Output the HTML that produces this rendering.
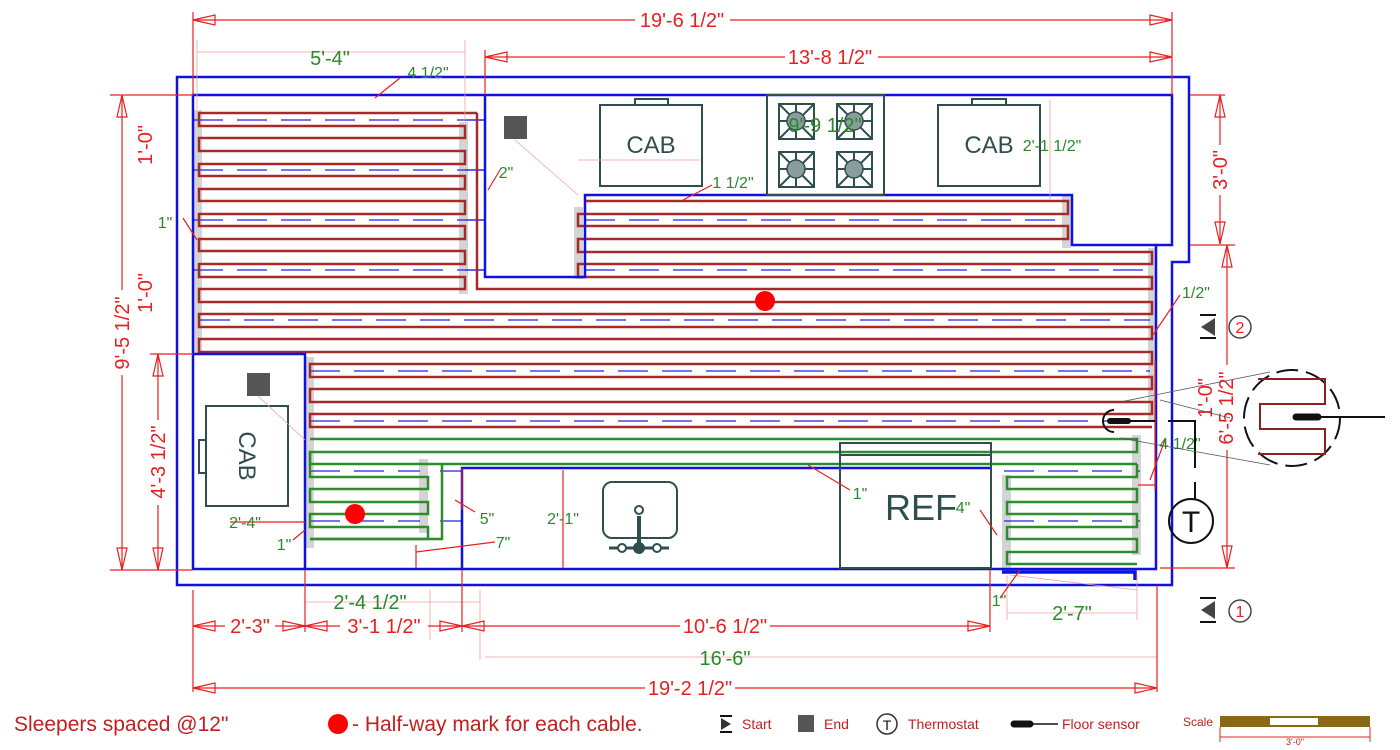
<!DOCTYPE html>
<html><head><meta charset="utf-8"><style>
html,body{margin:0;padding:0;background:#fff;}
svg{display:block;font-family:"Liberation Sans",Arial,sans-serif;}
.c{stroke:#a52a2a;stroke-width:2.5;fill:none}
.g{stroke:#2e8b2e;stroke-width:2.5;fill:none}
.b{stroke:#1010e0;stroke-width:2.5;fill:none}
.d{stroke:#2020e0;stroke-width:1.2;stroke-dasharray:30 14;fill:none}
.s{fill:#d4d4d4}
.f{stroke:#2f4f4f;stroke-width:2;fill:none}
.r{stroke:#e82020;stroke-width:1.2;fill:none}
.p{stroke:#f4a0a0;stroke-width:0.8;fill:none}
.rt{fill:#e82020;font-size:20px}
.gt{fill:#2a8a2a;font-size:16px}
</style></head><body>
<svg width="1400" height="750" viewBox="0 0 1400 750">
<rect class="s" x="193" y="110" width="9" height="245"/>
<rect class="s" x="459" y="122" width="9" height="172"/>
<rect class="s" x="574" y="207" width="9" height="72"/>
<rect class="s" x="1062" y="196" width="9" height="52"/>
<rect class="s" x="1148" y="248" width="9" height="172"/>
<rect class="s" x="305" y="357" width="9" height="191"/>
<rect class="s" x="419" y="459" width="9" height="74"/>
<rect class="s" x="1132" y="435" width="9" height="120"/>
<rect class="s" x="1002" y="475" width="9" height="95"/>

<g class="d">
<path d="M193 120H485M193 170H485M193 220H485M193 270H485"/>
<path d="M585 220H1062M585 270H1150M200 320H1150M310 371H1150M310 421H1150"/>
<path d="M310 471H420M310 521H420M1004 471H1140M1004 521H1140"/>
</g>
<path d="M465 120H485M465 170H485M465 220H485M465 270H485M440 471H462M440 521H462" stroke="#2020e0" stroke-width="1.2"/>

<g class="c">
<path d="M477 113H199V126H465V138H199V151H465V164H199V176H465V189H199V201H465V214H199V226H465V239H199V251H465V264H199V277H465V289H199V302H1152V314H199V327H1152V339H199V352H1152V364H310V377H1152V389H310V402H1152V414H310V427H1152"/>
<path d="M477 113V289H1152V277H578V264H1152V252H578V239H1068V226H578V214H1068V201H585"/>
</g>
<g class="g">
<path d="M310 439H1137V452H310V464H1137"/>
<path d="M310 452V477H428V489H310V502H428V514H310V527H428V539H310"/>
<path d="M442 464V539H310"/>
<path d="M1137 464V477H1007V489H1137V502H1007V514H1137V527H1007V539H1137V552H1007V564H1137"/>
</g>

<path class="b" d="M177 77H1189V262H1172V585H177Z"/>
<path class="b" d="M193 95H1172V245H1156V569H193Z"/>
<path class="b" d="M485 95V277H585V195H1072V245H1156"/>
<path class="b" d="M193 354H305V569"/>
<path class="b" d="M462 569V468H990"/>
<path d="M1002 572H1135V580" stroke="#1010e0" stroke-width="3.5" fill="none"/>

<g class="f">
<rect x="600" y="105" width="102" height="81"/><rect x="635" y="99" width="33" height="6"/>
<rect x="938" y="105" width="102" height="81"/><rect x="972" y="99" width="34" height="6"/>
<rect x="767" y="95" width="117" height="100"/>
<rect x="779" y="104" width="35" height="35"/><rect x="837" y="104" width="35" height="35"/>
<rect x="779" y="152" width="35" height="35"/><rect x="837" y="152" width="35" height="35"/>
<path d="M779 104l35 35M814 104l-35 35M796 104v35M779 121h35M837 104l35 35M872 104l-35 35M854 104v35M837 121h35M779 152l35 35M814 152l-35 35M796 152v35M779 169h35M837 152l35 35M872 152l-35 35M854 152v35M837 169h35"/>
<rect x="206" y="406" width="82" height="100"/><rect x="199" y="440" width="7" height="33"/>
<rect x="603" y="482" width="74" height="56" rx="9"/>
<circle cx="639" cy="510" r="4"/><path d="M639 516V548" stroke-width="4"/>
<path d="M609 548H669" stroke-width="3"/>
<rect x="840" y="443" width="151" height="125"/><path d="M840 455H991"/>
</g>
<g fill="#8a9c9c" stroke="#2f4f4f" stroke-width="1.5">
<circle cx="796" cy="121" r="9"/><circle cx="854" cy="121" r="9"/><circle cx="796" cy="169" r="9"/><circle cx="854" cy="169" r="9"/>
</g>
<circle cx="639" cy="548" r="6" fill="#2f4f4f"/><circle cx="622" cy="548" r="4" fill="#fff" stroke="#2f4f4f" stroke-width="2"/><circle cx="657" cy="548" r="4" fill="#fff" stroke="#2f4f4f" stroke-width="2"/>
<g fill="#2f4f4f" font-size="24">
<text x="651" y="153" text-anchor="middle">CAB</text>
<text x="989" y="153" text-anchor="middle">CAB</text>
<text x="247" y="456" text-anchor="middle" transform="rotate(90 247 456)" dy="8">CAB</text>
<text x="885" y="520" font-size="36">REF</text>
</g>
<rect x="504" y="116" width="23" height="23" fill="#555"/>
<rect x="247" y="373" width="23" height="23" fill="#555"/>
<circle cx="765" cy="301" r="10" fill="#f00"/>
<circle cx="355" cy="514" r="10" fill="#f00"/>

<g class="p">
<path d="M515 140L578 195M258 396L305 440M578 160H700M197 52H465M305 602H480M485 657H1157M1007 613H1137M1010 575L1137 590"/>
<path d="M197 40V110M465 40V120M197 45V110M430 590V640M480 590V660M1007 575V620M1137 575V620M1050 100V200"/>
</g>

<g class="r">
<path d="M193 20H635M730 20H1172M193 12V95M1172 12V95"/>
<path d="M485 57H785M878 57H1172M485 50V95"/>
<path d="M110 95H193M122 95V290M122 375V570M110 570H193"/>
<path d="M150 354H193M158 354V420M158 505V570"/>
<path d="M193 626H225M275 626H340M428 626H680M770 626H990M193 590V692M305 570V632M462 570V632M990 570V632"/>
<path d="M193 688H645M735 688H1157M1157 585V692"/>
<path d="M1190 95H1225M1220 95V145M1220 195V244M1190 245H1235M1227 245V365M1227 450V568M1160 568H1235"/>
<path d="M462 468V510M563 470V568M416 545V568M1138 485H1155M1155 490V360"/>
<path d="M375 98L400 78M488 190L500 170M683 200L712 185M183 218L197 240M1153 335L1180 295M1150 480L1165 440M293 540L305 530M455 500L475 512M416 552L495 542M808 465L850 490M997 535L980 510M1020 570L1000 598"/>
<path d="M230 522H305"/>
</g>
<g fill="none" stroke="#e82020" stroke-width="1.2">
<path d="M193 20l22-5v10zM1172 20l-22-5v10zM485 57l22-5v10zM1172 57l-22-5v10z"/>
<path d="M122 95l-5 22h10zM122 570l-5-22h10zM158 354l-5 22h10zM158 570l-5-22h10z"/>
<path d="M193 626l22-5v10zM305 626l-22-5v10zM305 626l22-5v10zM462 626l-22-5v10zM462 626l22-5v10zM990 626l-22-5v10zM193 688l22-5v10zM1157 688l-22-5v10z"/>
<path d="M1220 95l-5 22h10zM1220 244l-5-22h10zM1227 245l-5 22h10zM1227 568l-5-22h10z"/>
</g>
<g class="rt" text-anchor="middle">
<text x="682" y="27">19'-6 1/2"</text>
<text x="830" y="64">13'-8 1/2"</text>
<text x="690" y="695">19'-2 1/2"</text>
<text x="250" y="633">2'-3"</text>
<text x="384" y="633">3'-1 1/2"</text>
<text x="725" y="633">10'-6 1/2"</text>
<text transform="translate(129 333) rotate(-90)">9'-5 1/2"</text>
<text transform="translate(165 462) rotate(-90)">4'-3 1/2"</text>
<text transform="translate(152 145) rotate(-90)">1'-0"</text>
<text transform="translate(152 293) rotate(-90)">1'-0"</text>
<text transform="translate(1227 170) rotate(-90)">3'-0"</text>
<text transform="translate(1233 408) rotate(-90)">6'-5 1/2"</text>
<text transform="translate(1212 398) rotate(-90)">1'-0"</text>
</g>
<g class="gt" text-anchor="middle">
<text x="330" y="65" font-size="20">5'-4"</text>
<text x="428" y="78">4 1/2"</text>
<text x="506" y="178">2"</text>
<text x="733" y="188">1 1/2"</text>
<text x="825" y="132" font-size="20">9'-9 1/2"</text>
<text x="1052" y="151">2'-1 1/2"</text>
<text x="165" y="228">1"</text>
<text x="1196" y="298">1/2"</text>
<text x="1180" y="449">4 1/2"</text>
<text x="245" y="528">2'-4"</text>
<text x="284" y="550">1"</text>
<text x="487" y="524">5"</text>
<text x="503" y="548">7"</text>
<text x="563" y="524">2'-1"</text>
<text x="860" y="499">1"</text>
<text x="963" y="513">4"</text>
<text x="999" y="606">1"</text>
<text x="370" y="609" font-size="20">2'-4 1/2"</text>
<text x="1072" y="620" font-size="20">2'-7"</text>
<text x="725" y="665" font-size="20">16'-6"</text>
</g>

<g stroke="#111" stroke-width="2" fill="none">
<path d="M1113 421H1155M1168 421H1195V468M1195 482V500"/>
<path d="M1114 410a11 11 0 1 0 0 22" />
<circle cx="1191" cy="521" r="22"/>
<circle cx="1292" cy="418" r="48" stroke-dasharray="22 8"/>
<path d="M1300 417H1385"/>
<path d="M1200 315H1216M1200 338H1216M1200 598H1216M1200 622H1216"/>
</g>
<path d="M1110 421H1128" stroke="#111" stroke-width="6" stroke-linecap="round"/>
<path d="M1296 417H1318" stroke="#111" stroke-width="7" stroke-linecap="round"/>
<path d="M1258 379H1325V404H1260V429H1325V454H1258" stroke="#8b2020" stroke-width="2" fill="none"/>
<path d="M1120 402L1270 372M1120 438L1270 465M1160 400L1230 418" stroke="#555" stroke-width="0.8"/>
<text x="1191" y="532" font-size="30" text-anchor="middle" fill="#111">T</text>
<path d="M1215 318L1201 327L1215 336Z" fill="#444"/>
<path d="M1215 601L1201 610L1215 619Z" fill="#444"/>
<circle cx="1240" cy="327" r="11" fill="none" stroke="#444" stroke-width="1.5"/>
<circle cx="1240" cy="611" r="11" fill="none" stroke="#444" stroke-width="1.5"/>
<text x="1240" y="333" font-size="16" text-anchor="middle" fill="#e82020">2</text>
<text x="1240" y="617" font-size="16" text-anchor="middle" fill="#e82020">1</text>

<text x="14" y="731" font-size="21" fill="#c02020">Sleepers spaced @12"</text>
<circle cx="338" cy="724" r="10" fill="#f00"/>
<text x="352" y="731" font-size="21" fill="#c02020">- Half-way mark for each cable.</text>
<path d="M720 716H732M720 732H732" stroke="#111" stroke-width="2"/>
<path d="M721 718L731 724L721 730Z" fill="#333"/>
<text x="742" y="729" font-size="14" fill="#c02020">Start</text>
<rect x="798" y="715" width="16" height="17" fill="#555"/>
<text x="824" y="729" font-size="14" fill="#c02020">End</text>
<circle cx="887" cy="724" r="10" fill="none" stroke="#333" stroke-width="1.5"/>
<text x="887" y="730" font-size="14" text-anchor="middle" fill="#111">T</text>
<text x="908" y="729" font-size="14" fill="#c02020">Thermostat</text>
<path d="M1014 724H1030" stroke="#111" stroke-width="7" stroke-linecap="round"/>
<path d="M1030 724H1058" stroke="#111" stroke-width="1.5"/>
<text x="1062" y="729" font-size="14" fill="#c02020">Floor sensor</text>
<text x="1183" y="726" font-size="12" fill="#c02020">Scale</text>
<rect x="1220" y="716" width="150" height="11" fill="#8b6914"/>
<rect x="1270" y="718" width="48" height="7" fill="#fff"/>
<path d="M1220 737H1370M1220 727V742M1370 727V742" stroke="#e82020" stroke-width="1"/>
<text x="1295" y="745" font-size="9" text-anchor="middle" fill="#c02020">3'-0"</text>
</svg>
</body></html>
